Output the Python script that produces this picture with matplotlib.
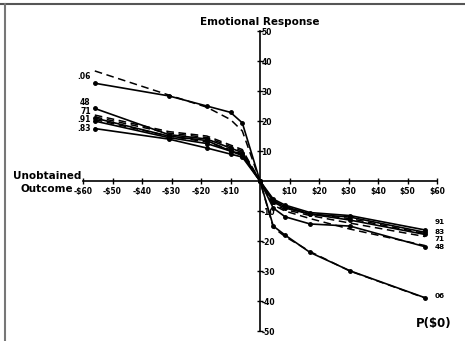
import numpy as np
import matplotlib.pyplot as plt
from matplotlib.lines import Line2D

# unobtained outcome ($), losses on the left, gains on the right
x_neg = [-56, -31, -18, -10, -6]
x_pos = [4.5, 8.5, 17, 30.5, 56]

# observed emotional response by P($0)
obs_06 = [32.6, 28.4, 25.0, 22.9, 19.4], [-15.0, -18.0, -23.8, -29.9, -38.9]
obs_48 = [24.2, 15.5, 14.0, 11.0, 9.5], [-9.0, -11.9, -14.3, -15.0, -21.9]
obs_71 = [21.0, 15.0, 13.5, 10.0, 9.0], [-7.0, -9.0, -11.0, -13.0, -17.8]
obs_91 = [20.0, 14.5, 12.5, 10.0, 8.5], [-6.0, -8.0, -10.5, -11.5, -16.3]
obs_83 = [17.5, 14.0, 11.0, 9.0, 8.0], [-6.5, -8.5, -11.0, -12.0, -17.1]

# model predictions (dashed)
pred_06 = [36.7, 28.7, 24.6, 20.5, 16.7], [-15.5, -18.5, -23.5, -30.0, -39.0]
pred_48 = [22.0, 16.5, 15.0, 12.0, 10.5], [-8.0, -10.0, -12.5, -16.0, -21.5]
pred_71 = [21.4, 16.0, 14.5, 11.5, 10.0], [-7.5, -9.5, -11.5, -14.0, -18.5]
pred_91 = [20.5, 15.0, 13.0, 10.5, 9.0], [-6.5, -8.5, -11.0, -12.5, -17.5]

left_labels = [".06", "48", "71", ".91", ".83"]
right_labels = ["06", "48", "71", "83", "91"]

x_ticks = [-60, -50, -40, -30, -20, -10, 10, 20, 30, 40, 50, 60]
y_ticks = [-50, -40, -30, -20, -10, 10, 20, 30, 40, 50]


def full_series(series):
    left, right = series
    xs = x_neg + [0] + x_pos
    ys = list(left) + [0] + list(right)
    return xs, ys


def money(v):
    return f"-${abs(v)}" if v < 0 else f"${v}"


plt.rcParams['font.family'] = ['DejaVu Sans']
plt.rcParams['font.weight'] = 'bold'

fig = plt.figure(figsize=(4.65, 3.41), dpi=100)
ax = fig.add_axes([0.1785, 0.029, 0.7613, 0.880])

observed = [obs_06, obs_48, obs_71, obs_91, obs_83]
predicted = [pred_06, pred_48, pred_71, pred_91]

for s in predicted:
    xs, ys = full_series(s)
    ax.plot(xs, ys, color="black", lw=1.1, ls=(0, (5, 3)))

for s in observed:
    xs, ys = full_series(s)
    ax.plot(xs, ys, color="black", lw=1.2, marker="o", markersize=2.5)

# series labels at both ends
left_offsets = [(-3, 5), (-3, 4), (-3, 5), (-3, 1), (-3, 0)]
for lab, s, off in zip(left_labels, [obs_06, obs_48, obs_71, obs_91, obs_83], left_offsets):
    ax.annotate(lab, (x_neg[0], s[0][0]), xytext=off, textcoords="offset points",
                ha="right", va="center", fontsize=5.5, fontweight="bold")

right_offsets = [(7, 1), (7, -0.5), (7, -3), (7, 0.5), (7, 6)]
for lab, s, off in zip(right_labels, [obs_06, obs_48, obs_71, obs_83, obs_91], right_offsets):
    ax.annotate(lab, (x_pos[-1], s[1][-1]), xytext=off, textcoords="offset points",
                ha="left", va="center", fontsize=5.2, fontweight="bold")

ax.set_xlim(-60, 60)
ax.set_ylim(-50, 50)
ax.spines['left'].set_position(('data', 0))
ax.spines['bottom'].set_position(('data', 0))
ax.spines['right'].set_visible(False)
ax.spines['top'].set_visible(False)
ax.spines['left'].set_linewidth(1.2)
ax.spines['bottom'].set_linewidth(1.2)

ax.set_xticks(x_ticks)
ax.set_xticklabels([money(v) for v in x_ticks], fontsize=5.5, fontweight="bold")
ax.set_yticks(y_ticks)
ax.set_yticklabels([str(v) for v in y_ticks], fontsize=5.5, fontweight="bold")
ax.tick_params(axis="x", direction="inout", length=4, width=1, pad=2)
ax.tick_params(axis="y", direction="inout", length=4, width=1, pad=-3,
               left=True, right=False, labelleft=True, labelright=False)
for t in ax.get_yticklabels():
    t.set_horizontalalignment("left")

ax.text(0, 51.5, "Emotional Response", ha="center", va="bottom",
        fontsize=7.5, fontweight="bold")
ax.text(59, -47.5, "P($0)", ha="center", va="center", fontsize=8.5, fontweight="bold")
ax.text(-60.5, 1.6, "Unobtained", ha="right", va="center", fontsize=7.5, fontweight="bold")
ax.text(-63.5, -2.7, "Outcome", ha="right", va="center", fontsize=7.5, fontweight="bold")

# scan border
fig.add_artist(Line2D([0.0, 1.0], [0.988, 0.988], color="#555555", lw=1.5,
                      transform=fig.transFigure))
fig.add_artist(Line2D([0.011, 0.011], [0.0, 0.988], color="#777777", lw=1.5,
                      transform=fig.transFigure))

fig.savefig("out.png", dpi=100)
